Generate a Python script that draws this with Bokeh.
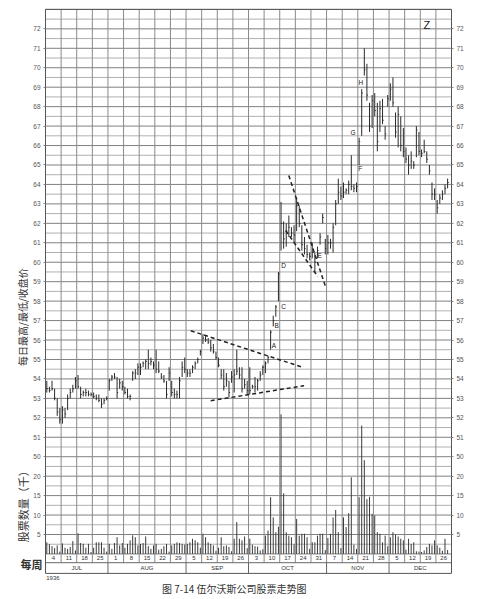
import numpy as np
from bokeh.plotting import figure
from bokeh.models import Range1d, LinearAxis, FixedTicker, ColumnDataSource
from bokeh.core.properties import value
from bokeh.embed import file_html
from bokeh.resources import INLINE

# ---------------- data ----------------
week_labels = ["4", "11", "18", "25", "1", "8", "15", "22", "29", "5", "12", "19", "26",
               "3", "10", "17", "24", "31", "7", "14", "21", "28", "5", "12", "19", "26"]
months = ["JUL", "AUG", "SEP", "OCT", "NOV", "DEC"]
month_weeks = [4, 5, 4, 5, 4, 4]
price_ticks = list(range(50, 73))
vol_ticks = [5, 10, 15, 20]
year_label = "1936"
days_per_week = 6

high = [53.9, 53.6, 53.9, 53.5, 53.0, 52.5,
        52.6, 52.5, 53.2, 53.5, 53.7, 54.1,
        54.2, 53.6, 53.4, 53.5, 53.4, 53.3,
        53.3, 53.2, 53.2, 53.0, 53.0, 53.1,
        54.0, 54.2, 54.3, 54.1, 54.0, 53.9,
        53.6, 53.5, 53.2, 54.4, 54.5, 54.8,
        54.8, 54.9, 55.0, 55.5, 55.1, 54.9,
        55.5, 54.9, 54.3, 54.2, 53.9, 54.6,
        53.9, 53.5, 53.4, 54.1, 54.9, 55.1,
        54.5, 54.5, 54.7, 54.9, 55.1, 55.5,
        56.3, 56.2, 56.1, 56.0, 55.8, 55.4,
        55.1, 54.5, 54.5, 54.3, 53.9, 54.4,
        54.5, 55.5, 54.6, 54.6, 54.0, 53.9,
        54.6, 53.7, 54.1, 54.0, 54.4, 54.7,
        54.9, 55.2, 56.5, 57.25, 57.8, 59.5,
        63.1, 62.1, 62.0, 62.4, 61.8, 61.9,
        63.3, 62.9, 61.9, 61.3, 60.9, 60.5,
        61.0, 60.5, 60.8, 61.5, 62.5, 61.2,
        61.4, 61.2, 62.0, 63.2, 64.3, 63.9,
        64.1, 63.8, 64.2, 65.5, 64.0, 64.1,
        66.4, 68.9, 71.0, 70.2, 68.2, 68.6,
        68.7, 68.2, 68.3, 68.4, 67.0, 68.6,
        69.2, 69.5, 67.7, 68.0, 67.5, 66.9,
        65.9, 65.5, 65.7, 65.2, 67.0, 66.7,
        65.8, 66.3, 65.7, 65.0, 64.1, 63.8,
        63.2, 63.5, 63.7, 64.0, 64.3]
low = [53.3, 53.3, 53.4, 52.9, 52.1, 51.7,
       51.7, 52.0, 52.4, 53.0, 53.3, 53.5,
       53.5, 53.0, 53.1, 53.1, 53.1, 53.1,
       53.0, 52.9, 52.8, 52.5, 52.7, 52.9,
       53.4, 53.9, 54.0, 53.0, 53.5, 53.4,
       53.2, 53.0, 52.9, 53.9, 54.0, 54.2,
       54.2, 54.6, 54.5, 54.5, 54.7, 54.5,
       54.3, 54.3, 54.0, 53.8, 53.0, 53.9,
       53.1, 53.0, 53.0, 53.0, 54.1, 54.3,
       54.1, 54.1, 54.3, 54.5, 54.8, 55.2,
       55.8, 55.9, 55.8, 55.4, 55.3, 55.0,
       54.6, 54.0, 53.4, 53.6, 53.05, 53.8,
       53.3, 54.2, 54.0, 53.3, 53.5, 53.2,
       53.2, 53.5, 53.3, 53.4, 53.9, 54.2,
       54.3, 54.8, 55.5, 56.7, 57.2, 58.0,
       60.6, 60.7, 60.8, 61.3, 61.3, 61.0,
       61.6, 61.8, 60.6, 60.4, 60.2, 60.1,
       60.2, 59.5, 60.2, 60.9, 62.0, 60.4,
       60.4, 60.7, 60.5, 61.9, 63.0, 63.2,
       63.3, 63.5, 63.5, 63.7, 63.6, 63.6,
       65.0, 66.5, 69.6, 68.3, 66.7, 66.9,
       67.5, 65.7, 66.7, 67.1, 66.3, 68.0,
       68.3, 68.0, 66.4, 65.9, 65.7, 65.4,
       65.1, 64.5, 64.8, 64.8, 65.4, 65.5,
       65.4, 65.6, 65.1, 64.5, 63.2, 63.2,
       62.5, 63.0, 63.2, 63.5, 63.8]
close = [53.5, 53.4, 53.5, 53.0, 52.3, 51.9,
         52.4, 52.2, 53.0, 53.3, 53.5, 53.9,
         53.6, 53.2, 53.3, 53.3, 53.2, 53.2,
         53.1, 53.0, 52.9, 52.7, 52.9, 53.0,
         53.9, 54.1, 54.1, 53.3, 53.8, 53.6,
         53.3, 53.1, 53.1, 54.3, 54.3, 54.6,
         54.6, 54.8, 54.9, 54.8, 54.9, 54.7,
         54.5, 54.4, 54.1, 53.9, 53.2, 54.3,
         53.3, 53.2, 53.2, 53.9, 54.6, 54.5,
         54.3, 54.3, 54.6, 54.8, 55.0, 55.4,
         56.1, 56.0, 55.9, 55.6, 55.4, 55.1,
         54.7, 54.2, 53.6, 53.9, 53.3, 54.1,
         54.2, 54.4, 54.2, 53.5, 53.7, 53.4,
         53.4, 53.6, 53.6, 53.9, 54.2, 54.6,
         54.8, 55.1, 56.4, 57.0, 57.7, 59.4,
         62.0, 61.2, 61.6, 61.8, 61.5, 61.4,
         62.9, 62.0, 60.9, 60.7, 60.4, 60.3,
         60.5, 60.0, 60.6, 61.3, 62.3, 60.7,
         61.0, 61.0, 61.8, 63.0, 63.6, 63.4,
         63.6, 63.7, 64.0, 63.9, 63.8, 63.9,
         66.2, 68.7, 69.9, 68.6, 67.0, 68.3,
         67.8, 66.2, 67.9, 67.3, 66.6, 68.4,
         68.9, 68.2, 66.7, 67.6, 66.0, 65.7,
         65.3, 65.0, 65.2, 65.0, 66.8, 65.7,
         65.6, 65.7, 65.3, 64.7, 63.5, 63.5,
         62.8, 63.3, 63.5, 63.8, 64.1]
volume = [3.0, 2.5, 2.0, 1.5, 2.2, 0.6,
          2.7, 1.6, 1.3, 1.8, 3.3, 0.9,
          5.3, 2.8, 2.6, 1.6, 2.6, 0.5,
          1.6, 3.0, 3.0, 3.0, 1.6, 0.6,
          2.6, 1.3, 2.8, 4.3, 2.2, 2.8,
          1.6, 2.6, 3.5, 4.8, 4.3, 2.2,
          2.6, 2.8, 4.5, 2.0, 1.3, 2.2,
          2.6, 1.1, 1.3, 2.0, 2.6, 0.6,
          2.2, 2.6, 3.0, 2.8, 2.6, 2.4,
          2.6, 3.0, 3.9, 3.5, 3.0, 1.6,
          5.2, 4.3, 3.0, 2.6, 2.2, 0.8,
          1.6, 4.3, 2.0, 2.2, 1.8, 0.7,
          3.9, 8.2, 3.9, 3.5, 4.5, 1.5,
          3.9, 2.4, 2.0, 1.9, 0.9, 1.2,
          4.7, 6.0, 14.6, 9.4, 5.6, 7.0,
          35.9, 15.6, 5.6, 4.7, 4.3, 2.5,
          9.0, 4.7, 5.2, 5.2, 4.3, 1.3,
          3.0, 3.0, 4.7, 5.2, 5.2, 1.0,
          4.1, 5.2, 9.4, 11.3, 5.6, 1.5,
          9.4, 6.9, 10.5, 19.7, 2.4, 1.3,
          14.6, 33.0, 24.1, 14.1, 14.7, 10.3,
          9.9, 5.6, 5.2, 3.0, 4.7, 2.0,
          4.3, 5.6, 5.0, 4.5, 3.9, 3.5,
          1.1, 3.9, 2.6, 3.0, 0.7, 0.6,
          0.5, 0.9, 1.8, 2.6, 2.2, 3.5,
          2.2, 1.6, 0.8, 3.9, 1.0]

# chart annotations (letters) and trend lines, in week / price units
point_letters = ["A", "B", "C", "D", "E", "F", "G", "H"]
letter_x = [14.63, 14.81, 15.24, 15.24, 17.56, 20.15, 19.70, 20.19]
letter_y = [55.70, 56.74, 57.72, 59.83, 60.34, 64.80, 66.68, 69.26]
trend_x = [[9.30, 16.46], [10.58, 16.56], [15.58, 17.97], [15.38, 17.44]]
trend_y = [[56.48, 54.60], [52.88, 53.65], [64.46, 58.65], [61.63, 59.26]]

title_text = "图 7-14    伍尔沃斯公司股票走势图"
price_label = "每日最高/最低/收盘价"
vol_label = "股票数量（千）"
week_word = "每周"

# ---------------- layout ----------------
n_weeks = len(week_labels)
P_TOP, P_BOT = 73.0, 44.0          # price-unit extent of the chart box
VOL_BASE = 45.0                     # volume zero in price units
VOL_PER_PRICE = 5.0                 # 5 thousand shares per price unit
WEEK_SPLIT = 44.55                  # separator between week row and month row

CW, CH = 480, 598                   # canvas size
PX_W = 406.0 / n_weeks              # pixels per week
PX_P = 564.0 / (P_TOP - P_BOT)      # pixels per price unit
LEFT_PX, TOP_PX = 45.0, 8.9         # chart box offset inside canvas
x0 = -LEFT_PX / PX_W
x1 = x0 + CW / PX_W
y1 = P_TOP + TOP_PX / PX_P
y0 = y1 - CH / PX_P

x_day = [i // days_per_week + (i % days_per_week + 0.5) / days_per_week for i in range(len(high))]

p = figure(frame_width=CW, frame_height=CH, output_backend="svg", toolbar_location=None,
           x_range=Range1d(x0, x1), y_range=Range1d(y0, y1),
           x_axis_location=None, y_axis_location=None,
           min_border=0)
p.extra_y_ranges = {"vol": Range1d((y0 - VOL_BASE) * VOL_PER_PRICE, (y1 - VOL_BASE) * VOL_PER_PRICE)}
p.outline_line_color = None
p.background_fill_color = "white"
p.border_fill_color = "white"
p.xgrid.visible = False
p.ygrid.visible = False

# horizontal grid
hmaj = list(np.arange(VOL_BASE, P_TOP + 0.01, 1.0))
hmin = list(np.arange(VOL_BASE + 0.5, P_TOP, 1.0))
p.segment(x0=[0] * len(hmin), y0=hmin, x1=[n_weeks] * len(hmin), y1=hmin, line_color="#b0b0b0", line_width=1)
p.segment(x0=[0] * len(hmaj), y0=hmaj, x1=[n_weeks] * len(hmaj), y1=hmaj, line_color="#808080", line_width=1)

# vertical grid
wk = list(range(1, n_weeks))
p.segment(x0=wk, y0=[WEEK_SPLIT] * len(wk), x1=wk, y1=[P_TOP] * len(wk), line_color="#8a8a8a", line_width=1)
bounds = list(np.cumsum(month_weeks)[:-1])
p.segment(x0=bounds, y0=[P_BOT] * len(bounds), x1=bounds, y1=[WEEK_SPLIT] * len(bounds),
          line_color="#666666", line_width=1)
p.segment(x0=[0], y0=[WEEK_SPLIT], x1=[n_weeks], y1=[WEEK_SPLIT], line_color="#666666", line_width=1)

# chart box
p.line(x=[0, n_weeks, n_weeks, 0, 0], y=[P_BOT, P_BOT, P_TOP, P_TOP, P_BOT], line_color="#555555", line_width=1)

# axes (price ticks plus volume ticks on the same grid)
vol_pos = [VOL_BASE + v / VOL_PER_PRICE for v in vol_ticks]
ticks = vol_pos + price_ticks
overrides = {pos: str(v) for pos, v in zip(vol_pos, vol_ticks)}
for side, loc in (("left", 0), ("right", n_weeks)):
    ax = LinearAxis(ticker=FixedTicker(ticks=ticks), major_label_overrides=overrides,
                    fixed_location=loc,
                    axis_line_color=None, major_tick_line_color="#888888", major_tick_out=2,
                    major_tick_in=0, minor_tick_line_color=None,
                    major_label_text_font_size="6.5px", major_label_text_color="#555555",
                    major_label_text_font="Liberation Sans", major_label_standoff=3)
    p.add_layout(ax, side)

# volume bars
vsrc = ColumnDataSource(dict(x=x_day, v=volume, z=[0] * len(volume)))
p.segment(x0="x", y0="z", x1="x", y1="v", source=vsrc, y_range_name="vol",
          line_color="#3a3a3a", line_width=1)

# price bars
psrc = ColumnDataSource(dict(x=x_day, h=high, l=low, c=close,
                             xr=[x + 0.07 for x in x_day]))
p.segment(x0="x", y0="l", x1="x", y1="h", source=psrc, line_color="#2a2a2a", line_width=1)
p.segment(x0="x", y0="c", x1="xr", y1="c", source=psrc, line_color="#2a2a2a", line_width=1)

# trend lines
for xs, ys in zip(trend_x, trend_y):
    p.line(xs, ys, line_color="#222222", line_width=1.5, line_dash="4 3")

# point letters
p.text(x=letter_x, y=letter_y, text=point_letters, text_font=value("Liberation Sans"),
       text_font_size="6.5px", text_color="#222222", text_align="center", text_baseline="middle")
p.text(x=[24.42], y=[72.22], text=["Z"], text_font=value("Liberation Sans"),
       text_font_size="11px", text_color="#222222", text_align="center", text_baseline="middle")

# week row / month row
wc = [i + 0.5 for i in range(n_weeks)]
p.text(x=wc, y=[(VOL_BASE + WEEK_SPLIT) / 2] * n_weeks, text=week_labels,
       text_font=value("Liberation Sans"), text_font_size="6px", text_color="#333333",
       text_align="center", text_baseline="middle")
starts = [0] + bounds
mc = [s + w / 2 for s, w in zip(starts, month_weeks)]
p.text(x=mc, y=[(WEEK_SPLIT + P_BOT) / 2] * len(months), text=months,
       text_font=value("Liberation Sans"), text_font_size="6px", text_color="#333333",
       text_align="center", text_baseline="middle")

# texts outside the chart box
cjk = value("Noto Sans CJK SC")
p.text(x=[-1.47], y=[57.18], text=[price_label], angle=np.pi / 2, text_align="center",
       text_baseline="middle", text_font=cjk, text_font_size="10px", text_color="#333333")
p.text(x=[-1.47], y=[47.58], text=[vol_label], angle=np.pi / 2, text_align="center",
       text_baseline="middle", text_font=cjk, text_font_size="11px", text_color="#333333")
p.text(x=[-0.9], y=[44.46], text=[week_word], text_align="center", text_baseline="middle",
       text_font=cjk, text_font_size="11px", text_font_style="bold", text_color="#333333")
p.text(x=[0.05], y=[43.74], text=[year_label], text_align="left", text_baseline="middle",
       text_font=value("Liberation Sans"), text_font_size="6px", text_color="#333333")
p.text(x=[12.3], y=[43.22], text=[title_text], text_align="center", text_baseline="middle",
       text_font=cjk, text_font_size="10px", text_color="#333333")

open("out.html", "w").write(file_html(p, INLINE))
